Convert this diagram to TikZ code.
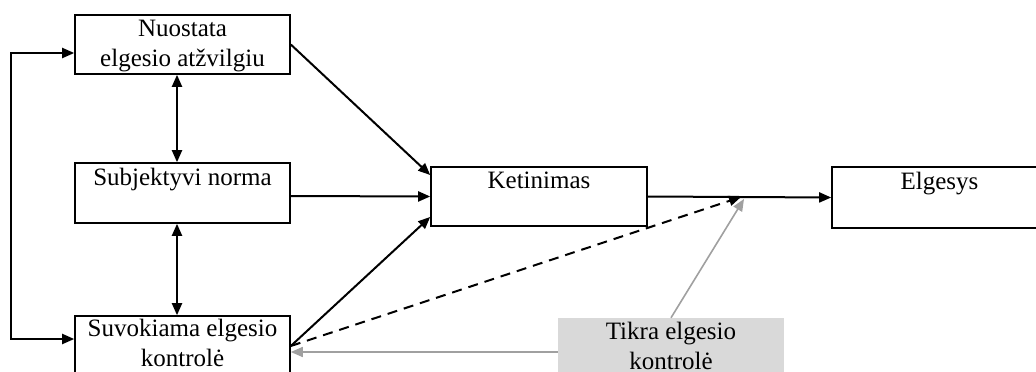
\documentclass[tikz,border=0pt]{standalone}
\usepackage{fontspec}
\setmainfont{Liberation Serif}
\usetikzlibrary{arrows.meta}
\definecolor{realfill}{RGB}{217,217,217}
\definecolor{realline}{RGB}{160,160,160}

\begin{document}
\begin{tikzpicture}[x=1pt, y=-1pt,
    box/.style={draw, line width=1.6pt, minimum width=215pt, minimum height=59pt, inner sep=0pt},
    realbox/.style={fill=realfill, minimum width=226pt, minimum height=60pt, inner sep=0pt},
    txt/.style={font=\fontsize{25}{30}\selectfont, align=center, anchor=north, inner sep=6pt},
    edge/.style={-{Triangle[length=12pt, width=10pt]}, line width=2pt},
    both/.style={{Triangle[length=12pt, width=10pt]}-{Triangle[length=12pt, width=10pt]}, line width=2pt},
    guess/.style={edge, dash pattern=on 10pt off 7pt},
    real/.style={-{Triangle[length=12pt, width=10pt]}, line width=1.6pt, draw=realline, fill=realline},
]
\useasboundingbox (0,0) rectangle (1036,372);
\clip (0,0) rectangle (1036,372);

\node[box, label={[txt]north:Nuostata\\elgesio atžvilgiu}] (att) at (182.5,44.5) {};
\node[box, minimum height=60pt, label={[txt]north:Subjektyvi norma}] (norm) at (182.5,193) {};
\node[box, minimum height=60pt, label={[txt, inner sep=4pt]north:Suvokiama elgesio\\kontrolė}] (pbc) at (182.5,346) {};
\node[box, minimum width=216pt, label={[txt]north:Ketinimas}] (int) at (539,196.5) {};
\node[box, minimum height=61pt, label={[txt]north:Elgesys}] (beh) at (939.5,197.5) {};
\node[realbox, label={[txt, inner sep=4pt]north:Tikra elgesio\\kontrolė}] (act) at (671,348) {};

\coordinate (join) at (741,197);
\coordinate (actw) at ([yshift=-4pt]act.west);

% correlations
\draw[both] ([yshift=-8.5pt]att.west) -- ++(-63,0) |- ([yshift=7pt]pbc.west);
\draw[both] ([xshift=-5.5pt]att.south) -- ([xshift=-5.5pt]norm.north);
\draw[both] ([xshift=-5.5pt]norm.south) -- ([xshift=-5.5pt]pbc.north);

% paths
\draw[edge] (att.east) -- ([yshift=21.5pt]int.west);
\draw[edge] ([yshift=-3pt]norm.east) -- (int.west);
\draw[edge] (pbc.east) -- ([yshift=-20.5pt]int.west);
\draw[edge] (int.east) -- (beh.west);
\draw[guess] (pbc.east) -- (join);
\draw[real] (act.north) -- ([xshift=3pt, yshift=-2pt]join);
\draw[real] (actw) -- (actw -| pbc.east);
\end{tikzpicture}
\end{document}
